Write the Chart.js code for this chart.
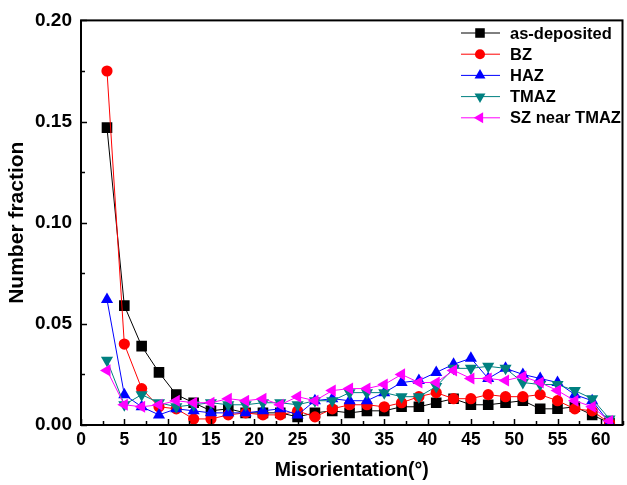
<!DOCTYPE html>
<html>
<head>
<meta charset="utf-8">
<script src="https://cdn.jsdelivr.net/npm/chart.js@4/dist/chart.umd.min.js"></script>
<style>
    html, body { margin: 0; padding: 0; background: #fff; overflow: hidden; }
    #wrap { width: 627px; height: 485px; overflow: hidden; }
</style>
</head>
<body>
<div id="wrap"><canvas id="misoChart" width="630" height="485"></canvas></div>
<script>
/* ------- 数据 ------- */
const angles = [3, 5, 7, 9, 11, 13, 15, 17, 19, 21, 23, 25, 27, 29, 31,
                33, 35, 37, 39, 41, 43, 45, 47, 49, 51, 53, 55, 57, 59, 61];

const asDeposited = [0.147, 0.059, 0.039, 0.026, 0.015, 0.011, 0.007, 0.008, 0.006, 0.006,
                     0.006, 0.004, 0.006, 0.007, 0.006, 0.007, 0.007, 0.009, 0.009, 0.011,
                     0.013, 0.010, 0.010, 0.011, 0.012, 0.008, 0.008, 0.009, 0.005, 0.001];
const bz = [0.175, 0.040, 0.018, 0.009, 0.008, 0.003, 0.003, 0.005, 0.006, 0.005,
            0.005, 0.007, 0.004, 0.008, 0.010, 0.010, 0.009, 0.011, 0.014, 0.016,
            0.013, 0.013, 0.015, 0.014, 0.014, 0.015, 0.012, 0.008, 0.007, 0.001];
const haz = [0.062, 0.015, 0.009, 0.005, 0.008, 0.007, 0.006, 0.006, 0.006, 0.007,
             0.008, 0.005, 0.012, 0.013, 0.012, 0.012, 0.016, 0.021, 0.022, 0.026,
             0.030, 0.033, 0.023, 0.028, 0.025, 0.023, 0.021, 0.015, 0.012, 0.001];
const tmaz = [0.032, 0.010, 0.015, 0.011, 0.009, 0.010, 0.011, 0.010, 0.010, 0.011,
              0.011, 0.010, 0.012, 0.012, 0.016, 0.016, 0.016, 0.014, 0.014, 0.019,
              0.028, 0.028, 0.029, 0.028, 0.021, 0.020, 0.020, 0.017, 0.013, 0.003];
const szNearTmaz = [0.027, 0.010, 0.009, 0.010, 0.012, 0.011, 0.011, 0.013, 0.012, 0.013,
                    0.010, 0.014, 0.012, 0.017, 0.018, 0.018, 0.020, 0.025, 0.021, 0.021,
                    0.027, 0.023, 0.023, 0.022, 0.024, 0.021, 0.017, 0.012, 0.009, 0.002];

const seriesNames = ['as-deposited', 'BZ', 'HAZ', 'TMAZ', 'SZ near TMAZ'];
const seriesValues = [asDeposited, bz, haz, tmaz, szNearTmaz];

const xTitle = 'Misorientation(°)';
const yTitle = 'Number fraction';

/* ------- 样式 ------- */
const FONT = "'Liberation Sans', Arial, sans-serif";
const styles = [
    { color: '#000000', pointStyle: 'rect',     radius: 7.5, rotation: 0 },
    { color: '#ff0000', pointStyle: 'circle',   radius: 5.6, rotation: 0 },
    { color: '#0000ff', pointStyle: 'triangle', radius: 7,   rotation: 0 },
    { color: '#008080', pointStyle: 'triangle', radius: 7,   rotation: 180 },
    { color: '#ff00ff', pointStyle: 'triangle', radius: 7,   rotation: -90 }
];

const datasets = seriesNames.map((name, i) => ({
    label: name,
    data: angles.map((a, j) => ({ x: a, y: seriesValues[i][j] })),
    borderColor: styles[i].color,
    backgroundColor: styles[i].color,
    borderWidth: 1,
    pointStyle: styles[i].pointStyle,
    pointRadius: styles[i].radius,
    pointRotation: styles[i].rotation,
    pointBorderWidth: 0,
    pointBackgroundColor: styles[i].color,
    tension: 0,
    order: seriesNames.length - i   // 后面的系列画在上层
}));

/* ------- 坐标框、内向刻度 ------- */
const frameTicks = {
    id: 'frameTicks',
    afterDatasetsDraw(chart) {
        const { ctx, chartArea: a, scales: { x, y } } = chart;
        ctx.save();
        ctx.strokeStyle = '#000';
        ctx.lineWidth = 1.5;
        ctx.beginPath();
        for (let v = 0; v <= 62.5; v += 2.5) {
            const px = Math.round(x.getPixelForValue(v)) + 0.5;
            const len = (v % 5 === 0) ? 6 : 4;
            ctx.moveTo(px, a.bottom);
            ctx.lineTo(px, a.bottom - len);
        }
        for (let v = 0; v <= 0.2001; v += 0.025) {
            const py = Math.round(y.getPixelForValue(v)) + 0.5;
            const major = Math.abs(v / 0.05 - Math.round(v / 0.05)) < 1e-6;
            ctx.moveTo(a.left, py);
            ctx.lineTo(a.left + (major ? 6 : 4), py);
        }
        ctx.stroke();
        ctx.lineWidth = 2;
        ctx.strokeRect(a.left, a.top, a.right - a.left, a.bottom - a.top);
        ctx.restore();
    }
};

/* ------- 图例（线-符号-线） ------- */
const lineLegend = {
    id: 'lineLegend',
    afterDraw(chart) {
        const ctx = chart.ctx;
        ctx.save();
        ctx.font = 'bold 16.5px ' + FONT;
        ctx.textBaseline = 'middle';
        chart.data.datasets.forEach((ds, i) => {
            const yy = 33 + i * 21.2;
            ctx.strokeStyle = ds.borderColor;
            ctx.fillStyle = ds.borderColor;
            ctx.lineWidth = 1;
            ctx.beginPath();
            ctx.moveTo(461, yy);
            ctx.lineTo(500, yy);
            ctx.stroke();
            Chart.helpers.drawPoint(ctx, {
                pointStyle: ds.pointStyle,
                radius: ds.pointRadius * 0.9,
                rotation: ds.pointRotation,
                borderWidth: 0
            }, 480, yy);
            ctx.fillStyle = '#000';
            ctx.fillText(ds.label, 510, yy + 1);
        });
        ctx.restore();
    }
};

new Chart(document.getElementById('misoChart'), {
    type: 'line',
    data: { datasets },
    options: {
        responsive: false,
        animation: false,
        devicePixelRatio: 1,
        layout: { padding: { top: 20, right: 1, left: 0, bottom: 0 } },
        plugins: {
            legend: { display: false },
            tooltip: { enabled: false }
        },
        scales: {
            x: {
                type: 'linear',
                min: 0,
                max: 62.5,
                afterFit: s => { s.height = 60; },
                grid: { display: false, drawTicks: false },
                border: { display: false },
                ticks: {
                    stepSize: 5,
                    includeBounds: false,
                    padding: 5,
                    color: '#000',
                    font: { family: FONT, size: 17.5, weight: 'bold' },
                    callback: v => String(v)
                },
                title: {
                    display: true,
                    text: xTitle,
                    color: '#000',
                    font: { family: FONT, size: 19.5, weight: 'bold' },
                    padding: { top: 0, bottom: 3 }
                }
            },
            y: {
                min: 0,
                max: 0.2,
                afterFit: s => { s.width = 81; },
                grid: { display: false, drawTicks: false },
                border: { display: false },
                ticks: {
                    stepSize: 0.05,
                    padding: 9,
                    color: '#000',
                    font: { family: FONT, size: 19, weight: 'bold' },
                    callback: v => v.toFixed(2)
                },
                title: {
                    display: true,
                    text: yTitle,
                    color: '#000',
                    font: { family: FONT, size: 21, weight: 'bold' },
                    padding: { top: 5, bottom: 0 }
                }
            }
        }
    },
    plugins: [frameTicks, lineLegend]
});
</script>
</body>
</html>
